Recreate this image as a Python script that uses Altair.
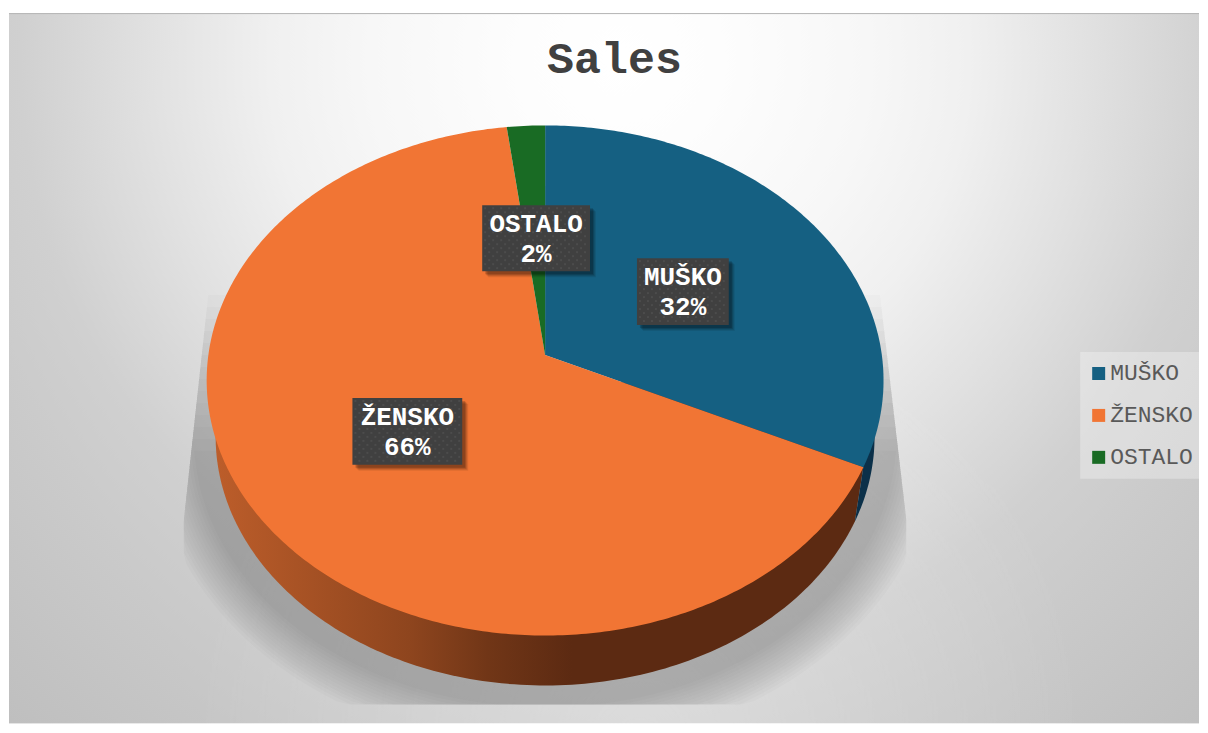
import numpy as np
import pandas as pd
import altair as alt

# ---- chart values -------------------------------------------------
categories = ["MUŠKO", "ŽENSKO", "OSTALO"]
shares = [32, 66, 2]
colors = ["#156082", "#F17534", "#196B24"]
wall_colors = ["#0B3049", "#5C2A12", "#0E3C14"]
title_text = "Sales"

# label boxes: image-pixel frame of each data label
label_boxes = {
    "MUŠKO": (637, 729, 258, 325),
    "ŽENSKO": (352, 462, 398, 465),
    "OSTALO": (482, 590, 205, 271),
}

# ---- pie geometry (image pixels) ----------------------------------
CX, CY, RX, RY = 545.0, 380.5, 339.0, 255.5      # top ellipse
BCY, BRX, BRY = 437.0, 330.0, 249.0              # bottom ellipse
A = (355.0 - CY) / RY                            # perspective shift of the apex

PLOT_W, PLOT_H = 1192, 716


def persp(theta):
    """true pie angle -> unit-disc point seen in perspective"""
    u, v = np.sin(theta), -np.cos(theta)
    d = 1 + A * v
    return u * np.sqrt(1 - A * A) / d, (v + A) / d


def top_pt(theta):
    u, v = persp(theta)
    return CX + RX * u, CY + RY * v


def bot_pt(theta):
    u, v = persp(theta)
    return CX + BRX * u, BCY + BRY * v


frac = np.cumsum([0] + shares) / sum(shares) * 2 * np.pi

rows = []
for k, name in enumerate(categories):
    t = np.linspace(frac[k], frac[k + 1], max(6, int(shares[k] * 5)))
    xs, ys = top_pt(t)
    xs = np.r_[CX, xs]
    ys = np.r_[355.0, ys]
    for i, (x, y) in enumerate(zip(xs, ys)):
        rows.append(dict(name=name, i=i, x=x, y=y))
wedges = pd.DataFrame(rows)

# side walls: the lower rim, the part of each slice that can be seen
b0 = frac[1]
t_left = 3 * np.pi / 2 + 0.1
t_right = np.pi / 2 - 0.1
t = np.linspace(b0, t_left, 160)
ox, oy = bot_pt(t)
tx, ty = top_pt(np.array([b0]))
wall_orange = pd.DataFrame(dict(
    x=np.r_[tx, ox, CX], y=np.r_[ty, oy, CY]))
wall_orange["i"] = range(len(wall_orange))
t = np.linspace(b0, t_right, 40)
ox, oy = bot_pt(t)
wall_blue = pd.DataFrame(dict(
    x=np.r_[tx, ox, CX], y=np.r_[ty, oy, CY]))
wall_blue["i"] = range(len(wall_blue))

# soft shadow: stacked translucent ellipses cut by the shadow's frame
rows = []
phi = np.linspace(0, 2 * np.pi, 181)
N = 14
for g in range(N):
    grow = 22 + g * 3.2
    x = CX + (BRX + grow) * np.sin(phi)
    y = BCY + (BRY + grow) * np.cos(phi)
    y = np.clip(y, 295 + 12 * (N - 1 - g), 705)
    left = 208 + (np.minimum(y, 520) - 290) * (183 - 208) / 230
    right = 880 + (np.minimum(y, 520) - 290) * (907 - 880) / 230
    x = np.clip(x, left, right)
    for i, (a, b) in enumerate(zip(x, y)):
        rows.append(dict(g=g, i=i, x=a, y=b))
shadow = pd.DataFrame(rows)

# dotted texture of the label boxes
rows = []
for name, (x0, x1, y0, y1) in label_boxes.items():
    for r, yy in enumerate(np.arange(y0 + 3, y1 - 1, 4.0)):
        for xx in np.arange(x0 + 3 + (r % 2) * 4, x1 - 1, 8.0):
            rows.append(dict(x=xx, y=yy))
dots = pd.DataFrame(rows)

boxes = pd.DataFrame([
    dict(name=c, x0=label_boxes[c][0], x1=label_boxes[c][1],
         y0=label_boxes[c][2], y1=label_boxes[c][3],
         xc=(label_boxes[c][0] + label_boxes[c][1]) / 2,
         label=f"{c}\n{s}%")
    for c, s in zip(categories, shares)
])

# ---- scales: image pixels ------------------------------------------
SX = alt.Scale(domain=[8, 8 + PLOT_W], nice=False, zero=False)
SY = alt.Scale(domain=[8 + PLOT_H, 8], nice=False, zero=False)
X = alt.X("x:Q", scale=SX, axis=None)
Y = alt.Y("y:Q", scale=SY, axis=None)


def poly(df, mark_kw, **enc):
    return alt.Chart(df).mark_line(filled=True, strokeWidth=0, clip=True, **mark_kw).encode(
        x=X, y=Y, order="i:Q", **enc)


bg_stops = [(0, "#ffffff"), (100, "#fdfdfd"), (250, "#f7f7f7"), (350, "#f0f0f0"),
            (470, "#e1e1e1"), (600, "#d0d0d0"), (700, "#cacaca"), (900, "#bfbfbf")]
bg_gradient = alt.RadialGradient(
    gradient="radial", x1=0.513, y1=0.241, r1=0.0, x2=0.513, y2=0.241, r2=0.755,
    stops=[alt.GradientStop(offset=d / 900, color=c) for d, c in bg_stops],
)
glow_gradient = alt.RadialGradient(
    gradient="radial", x1=0.53, y1=0.81, r1=0.0, x2=0.53, y2=0.81, r2=0.378,
    stops=[
        alt.GradientStop(offset=0.0, color="rgba(255,255,255,0.3)"),
        alt.GradientStop(offset=1.0, color="rgba(255,255,255,0)"),
    ],
)
frame = pd.DataFrame([dict(x=8, x2=8 + PLOT_W, y=13, y2=8 + PLOT_H)])
background = alt.Chart(frame).mark_rect(fill=bg_gradient).encode(
    x=X, x2="x2:Q", y=Y, y2="y2:Q")
glow = alt.Chart(frame).mark_rect(fill=glow_gradient).encode(
    x=X, x2="x2:Q", y=Y, y2="y2:Q")
top_line = alt.Chart(frame).mark_rule(color="#b4b4b4", strokeWidth=1).encode(
    x=X, x2="x2:Q", y=Y)

shadow_layer = poly(shadow, dict(color="#000000", opacity=0.017), detail="g:N")

wall_gradient = alt.LinearGradient(
    gradient="linear", x1=0, y1=0, x2=1, y2=0,
    stops=[
        alt.GradientStop(offset=0.0, color="#BC5D2A"),
        alt.GradientStop(offset=0.30, color="#8E451E"),
        alt.GradientStop(offset=0.42, color="#713617"),
        alt.GradientStop(offset=0.55, color="#5C2A12"),
        alt.GradientStop(offset=1.0, color="#5C2A12"),
    ],
)
wall_o = poly(wall_orange, dict(color=wall_gradient))
wall_b = poly(wall_blue, dict(color=wall_colors[0]))

legend_panel = alt.Chart(pd.DataFrame([dict(x=1081, x2=1205, y=352, y2=479)])).mark_rect(
    color="#ffffff", opacity=0.3, clip=True).encode(x=X, x2="x2:Q", y=Y, y2="y2:Q")

top = poly(
    wedges, {},
    color=alt.Color(
        "name:N",
        scale=alt.Scale(domain=categories, range=colors),
        legend=alt.Legend(
            orient="none", legendX=1080, legendY=354, title=None,
            symbolType="square", symbolSize=169, symbolStrokeWidth=0,
            labelFont="Liberation Mono", labelFontSize=23, labelColor="#595959",
            labelOffset=0, rowPadding=18, padding=0,
            symbolOpacity=1, labelLimit=200,
        ),
    ),
    detail="name:N",
)

box_enc = dict(x=alt.X("x0:Q", scale=SX, axis=None), x2="x1:Q",
               y=alt.Y("y0:Q", scale=SY, axis=None), y2="y1:Q")
box_shadows = [
    alt.Chart(boxes).transform_calculate(
        x0=f"datum.x0+{d}", x1=f"datum.x1+{d}", y0=f"datum.y0+{d}", y1=f"datum.y1+{d}"
    ).mark_rect(color="#000000", opacity=o).encode(**box_enc)
    for d, o in [(6, 0.08), (5, 0.10), (4, 0.14), (3, 0.18)]
]
box_fill = alt.Chart(boxes).mark_rect(color="#404040").encode(**box_enc)
dot_layer = alt.Chart(dots).mark_square(size=4, color="#4e4e4e", opacity=0.9).encode(x=X, y=Y)
texts = alt.Chart(boxes).transform_calculate(ytext="datum.y0+6").mark_text(
    font="Liberation Mono", fontWeight="bold", fontSize=26, color="#ffffff",
    lineBreak="\n", lineHeight=30, baseline="top", align="center",
).encode(
    x=alt.X("xc:Q", scale=SX, axis=None),
    y=alt.Y("ytext:Q", scale=SY, axis=None),
    text="label:N",
)
title_layer = alt.Chart(pd.DataFrame([dict(x=614.5, y=73, t=title_text)])).mark_text(
    font="Liberation Mono", fontWeight="bold", fontSize=45, color="#404040",
    baseline="alphabetic", align="center",
).encode(x=X, y=Y, text="t:N")

chart = alt.layer(
    background, glow, top_line, title_layer, legend_panel, shadow_layer, wall_o, wall_b, top,
    *box_shadows, box_fill, dot_layer, texts,
).properties(
    width=PLOT_W, height=PLOT_H, padding=0,
).configure_view(stroke=None)

chart.save("out.html", embed_options={"renderer": "svg", "actions": False})
